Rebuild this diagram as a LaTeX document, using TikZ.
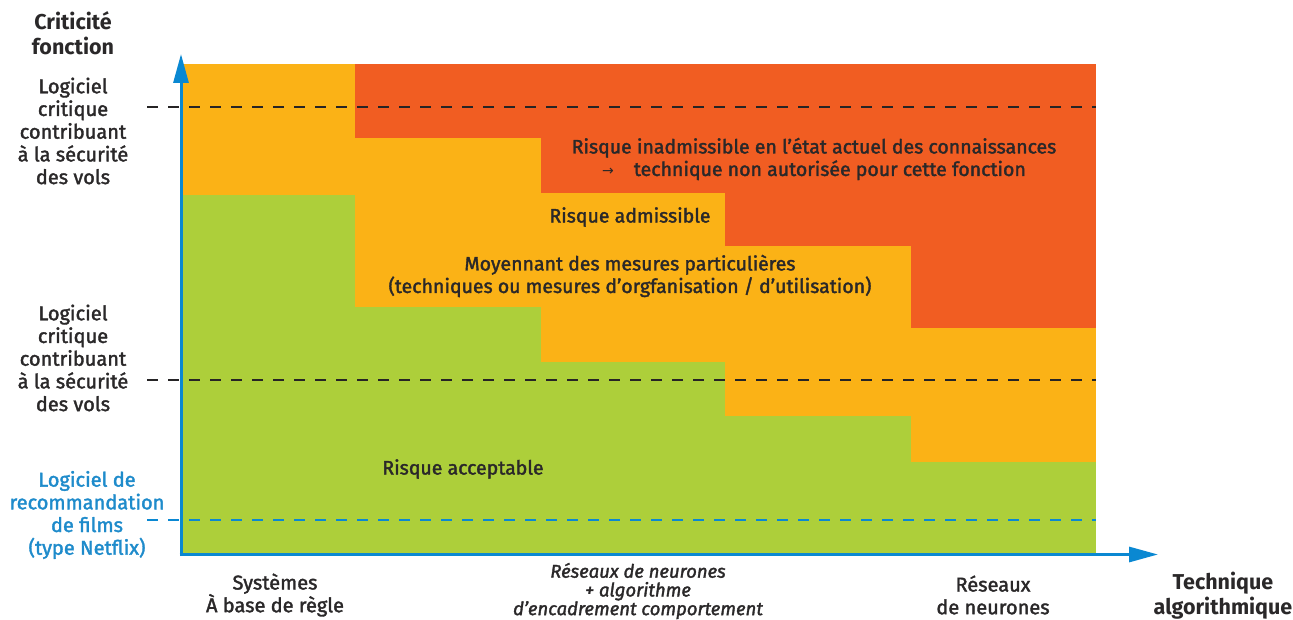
\documentclass[tikz,border=0pt]{standalone}
\usepackage{fontspec}
\setmainfont{Fira Sans}[FakeBold=1.8]
\newfontfamily\titlefont{Fira Sans}
\newfontfamily\arrowfont{DejaVu Sans}
\usetikzlibrary{arrows.meta}
\definecolor{cRed}{HTML}{F15D22}
\definecolor{cYel}{HTML}{FBB216}
\definecolor{cGrn}{HTML}{ADCF3A}
\definecolor{cAxis}{HTML}{0A88D2}
\definecolor{cBlueTxt}{HTML}{1E8BCB}
\definecolor{cTxt}{HTML}{2A2829}
\tikzset{
  axis/.style={draw=cAxis, line width=3pt, -{Triangle[width=15pt,length=29pt]}},
  crit/.style={draw=cTxt!90!black, line width=2pt, dash pattern=on 11pt off 10pt},
  critblue/.style={draw=cAxis, line width=2pt, dash pattern=on 11pt off 10pt},
  lbl/.style={align=center, inner sep=0pt, text=cTxt, font=\fontsize{20}{22.7}\selectfont},
  ttl/.style={align=center, inner sep=0pt, text=cTxt, font=\titlefont\bfseries\fontsize{21.5}{25}\selectfont},
  inlbl/.style={align=center, inner sep=0pt, text=cTxt, font=\fontsize{19.5}{22.5}\selectfont},
  itlbl/.style={align=center, inner sep=0pt, text=cTxt, font=\fontsize{18.5}{18.7}\selectfont\itshape}
}
\begin{document}
\begin{tikzpicture}[x=1pt,y=-1pt]
\useasboundingbox (0,0) rectangle (1293,620);
% column boundaries: 183, 355, 541, 725, 911, 1096
% green
\fill[cGrn] (183,195) rectangle (355,553);
\fill[cGrn] (355,307) rectangle (541,553);
\fill[cGrn] (541,362) rectangle (725,553);
\fill[cGrn] (725,416) rectangle (911,553);
\fill[cGrn] (911,462) rectangle (1096,553);
% yellow
\fill[cYel] (183,64) rectangle (355,195);
\fill[cYel] (355,138) rectangle (541,307);
\fill[cYel] (541,193) rectangle (725,362);
\fill[cYel] (725,246) rectangle (911,416);
\fill[cYel] (911,328) rectangle (1096,462);
% red
\fill[cRed] (355,64) rectangle (541,138);
\fill[cRed] (541,64) rectangle (725,193);
\fill[cRed] (725,64) rectangle (911,246);
\fill[cRed] (911,64) rectangle (1096,328);
% dashed levels
\coordinate (d1a) at (147,107); \coordinate (d1b) at (1096,107);
\coordinate (d2a) at (147,380); \coordinate (d2b) at (1096,380);
\coordinate (d3a) at (147,520); \coordinate (d3b) at (1096,520);
\draw[crit] (d1a) -- (d1b);
\draw[crit] (d2a) -- (d2b);
\draw[critblue] (d3a) -- (d3b);
% axes
\coordinate (Ystart) at (181,556);
\coordinate (Xstart) at (179.5,554.5);
\coordinate (Ytip) at (181,54);
\coordinate (Xtip) at (1158,554.5);
\draw[axis] (Ystart) -- (Ytip);
\draw[axis] (Xstart) -- (Xtip);
% left labels
\node[ttl] (ytitle) at (73,33) {Criticité\\fonction};
\node[lbl] (lvl1) at (73,131) {Logiciel\\critique\\contribuant\\à la sécurité\\des vols};
\node[lbl] (lvl2) at (73,358) {Logiciel\\critique\\contribuant\\à la sécurité\\des vols};
\node[lbl, text=cBlueTxt] (lvl3) at (87,515) {Logiciel de\\recommandation\\de films\\(type Netflix)};
% bottom labels
\node[lbl] (t1) at (275,595) {Systèmes\\À base de règle};
\node[itlbl] (t2) at (638,591) {Réseaux de neurones\\+ algorithme\\d’encadrement comportement};
\node[lbl] (t3) at (993,595) {Réseaux\\de neurones};
\node[ttl] (xtitle) at (1223,596) {Technique\\algorithmique};
% zone labels
\node[inlbl] (zred) at (814,159) {Risque inadmissible en l’état actuel des connaissances\\{\arrowfont\fontsize{14}{14}\selectfont →}\hspace{20pt}technique non autorisée pour cette fonction};
\node[inlbl] (zadm) at (630,217) {Risque admissible};
\node[inlbl] (zmes) at (630,276) {Moyennant des mesures particulières\\(techniques ou mesures d’orgfanisation / d’utilisation)};
\node[inlbl] (zacc) at (463,469) {Risque acceptable};
\end{tikzpicture}
\end{document}
